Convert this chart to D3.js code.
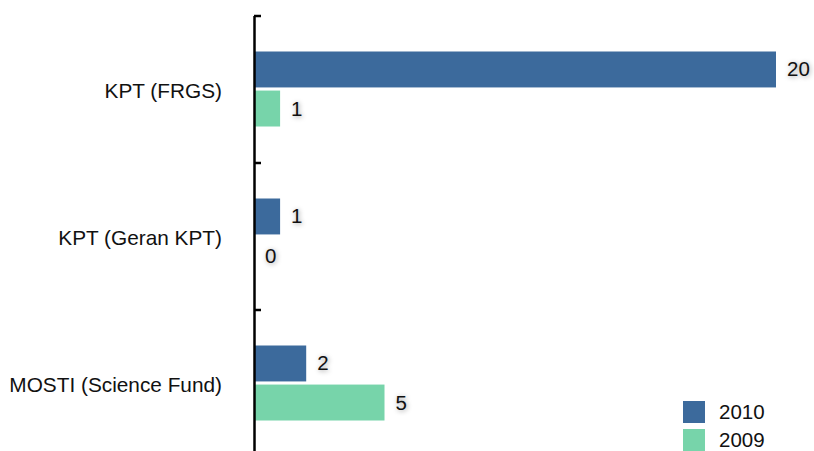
<!DOCTYPE html>
<html><head><meta charset="utf-8">
<script src="https://cdn.jsdelivr.net/npm/d3@7"></script>
<style>
body{margin:0;background:#fff;}
svg text{font-family:"Liberation Sans",Arial,Helvetica,sans-serif;}
.val{text-shadow:1px 1px 5px rgba(0,0,0,0.4);}
</style></head>
<body><svg id="c" width="814" height="451"></svg>
<script>
const categories = ["KPT (FRGS)", "KPT (Geran KPT)", "MOSTI (Science Fund)"];
const seriesNames = ["2010", "2009"];
const values2010 = [20, 1, 2];
const values2009 = [1, 0, 5];
const colors = ["#3c6a9c", "#77d4aa"];

const svg = d3.select("#c");
const x0 = 254;
const x = d3.scaleLinear().domain([0, 20]).range([x0, 776]);
const y = d3.scaleBand().domain(categories).range([15.5, 456.5]).padding(0);
const ySub = d3.scaleBand().domain(seriesNames).range([36, 111]).paddingInner(0.08);
const seriesVals = [values2010, values2009];

const data = [];
categories.forEach((c, i) => seriesNames.forEach((s, j) => data.push({c, s, v: seriesVals[j][i], j})));

svg.selectAll("rect.bar").data(data).enter().append("rect")
  .attr("x", x0)
  .attr("y", d => y(d.c) + ySub(d.s))
  .attr("width", d => x(d.v) - x0)
  .attr("height", ySub.bandwidth())
  .attr("fill", d => colors[d.j]);

svg.selectAll("text.val").data(data).enter().append("text")
  .attr("class", "val")
  .attr("x", d => x(d.v) + 11)
  .attr("y", d => y(d.c) + ySub(d.s) + ySub.bandwidth() / 2 + 7)
  .attr("font-size", 20.5)
  .attr("fill", "#111")
  .text(d => d.v);

// axis
const tickScale = d3.scaleLinear().domain([0, 3]).range([15.5, 456.5]);
const ax = svg.append("g").attr("transform", `translate(${x0},0)`)
  .call(d3.axisLeft(tickScale).ticks(3).tickSize(-7).tickSizeOuter(0).tickFormat(""));
ax.select(".domain").attr("stroke", "#000").attr("stroke-width", 2.5);
ax.selectAll(".tick line").attr("stroke", "#000").attr("stroke-width", 2.5);

svg.selectAll("text.cat").data(categories).enter().append("text")
  .attr("x", 222)
  .attr("y", d => y(d) + y.bandwidth() / 2 + 9)
  .attr("text-anchor", "end")
  .attr("font-size", 20.8)
  .attr("fill", "#111")
  .text(d => d);

// legend
const lg = svg.append("g").attr("transform", "translate(683,401)");
seriesNames.forEach((s, i) => {
  lg.append("rect").attr("x", 0).attr("y", i * 28).attr("width", 22).attr("height", 22).attr("fill", colors[i]);
  lg.append("text").attr("x", 36).attr("y", i * 28 + 18).attr("font-size", 20.5).attr("fill", "#111").text(s);
});
</script></body></html>
